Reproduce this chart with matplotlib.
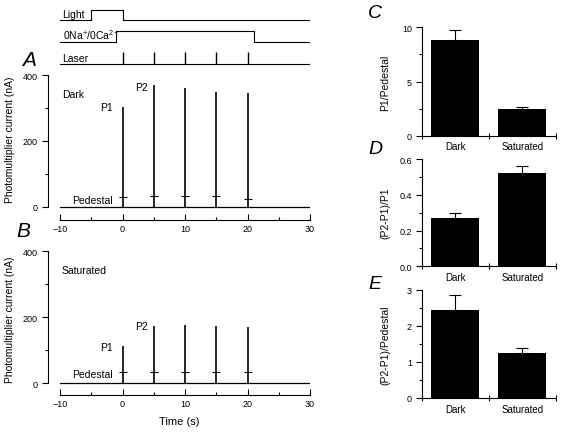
import numpy as np
import matplotlib
matplotlib.use('Agg')
import matplotlib.pyplot as plt
from matplotlib.ticker import FixedLocator

plt.rcParams['font.family'] = ['Liberation Sans', 'DejaVu Sans']
plt.rcParams['mathtext.fontset'] = 'custom'
plt.rcParams['mathtext.rm'] = 'Liberation Sans'
plt.rcParams['mathtext.it'] = 'Liberation Sans:italic'

# --- data ---
laser_t = [0, 5, 10, 15, 20]
dark_peaks = [303, 370, 360, 348, 345]
dark_ped = [30, 32, 33, 32, 23]
sat_peaks = [113, 172, 177, 174, 169]
sat_ped = [32, 35, 35, 35, 35]

light_t = [-10, -5, -5, 0, 0, 30]
light_v = [0, 0, 1, 1, 0, 0]
na_t = [-10, -1, -1, 21, 21, 30]
na_v = [0, 0, 1, 1, 0, 0]

groups = ['Dark', 'Saturated']
p1_ped = [8.8, 2.5]
p1_ped_err = [0.95, 0.12]
p2p1_p1 = [0.27, 0.52]
p2p1_p1_err = [0.03, 0.04]
p2p1_ped = [2.44, 1.26]
p2p1_ped_err = [0.42, 0.13]

W, H = 562, 435
fig = plt.figure(figsize=(W / 100, H / 100), dpi=100)


def px_axes(x0, y0, x1, y1):
    return fig.add_axes([x0 / W, 1 - y1 / H, (x1 - x0) / W, (y1 - y0) / H])


def trace_panel(ax, peaks, ped, ylow, cond, p1xy, p2xy, pedxy):
    ax.plot([-10, 30], [0, 0], color='k', lw=0.9)
    ax.vlines(laser_t, 0, peaks, color='k', lw=1.2)
    ax.plot(laser_t, ped, '_', color='k', ms=6, mew=0.8)
    ax.set_xlim(-11.92, 30)
    ax.set_ylim(ylow, 400)
    for s in ['top', 'right']:
        ax.spines[s].set_visible(False)
    ax.spines['left'].set_bounds(0, 400)
    ax.spines['bottom'].set_bounds(-10, 30)
    ax.spines['left'].set_linewidth(0.8)
    ax.spines['bottom'].set_linewidth(0.8)
    ax.set_yticks([0, 200, 400])
    ax.yaxis.set_minor_locator(FixedLocator([100, 300]))
    ax.set_xticks([-10, 0, 10, 20, 30])
    ax.xaxis.set_minor_locator(FixedLocator([-5, 5, 15, 25]))
    ax.tick_params(axis='y', which='major', direction='out', length=4, width=0.8, labelsize=6.5, pad=3.5)
    ax.tick_params(axis='y', which='minor', direction='out', length=2.5, width=0.8)
    ax.tick_params(axis='x', which='major', direction='in', length=4, width=0.8, labelsize=6.5, pad=3)
    ax.tick_params(axis='x', which='minor', direction='in', length=2, width=0.8)
    ax.text(-9.7, 343, cond, fontsize=7.5, va='center', ha='left')
    ax.text(p1xy[0], p1xy[1], 'P1', fontsize=7.5, va='center', ha='center')
    ax.text(p2xy[0], p2xy[1], 'P2', fontsize=7.5, va='center', ha='center')
    ax.text(pedxy[0], pedxy[1], 'Pedestal', fontsize=7.5, va='center', ha='right')
    ax.set_ylabel('Photomultiplier current (nA)', fontsize=7.5)


# top stimulus traces (y axis in pixels, inverted)
axt = px_axes(48, 0, 310, 72)
axt.set_xlim(-11.92, 30)
axt.set_ylim(72, 0)
axt.axis('off')
axt.plot(light_t, 21 - 10 * np.array(light_v), color='k', lw=0.8)
axt.plot(na_t, 43 - 11 * np.array(na_v), color='k', lw=0.8)
axt.plot([-10, 30], [65, 65], color='k', lw=0.8)
axt.vlines(laser_t, 53, 65, color='k', lw=1.0)
axt.text(-9.6, 20, 'Light', fontsize=7.5, va='bottom', ha='left')
axt.text(-9.6, 42, r'0Na$^{+}$/0Ca$^{2+}$', fontsize=7.5, va='bottom', ha='left')
axt.text(-9.6, 64, 'Laser', fontsize=7.5, va='bottom', ha='left')

axA = px_axes(48, 76, 310, 221)
trace_panel(axA, dark_peaks, dark_ped, -39.4, 'Dark', (-2.5, 303), (3.1, 364), (-1.5, 22))
axA.yaxis.set_label_coords(-0.126, 0.56)

axB = px_axes(48, 252.3, 310, 395.5)
trace_panel(axB, sat_peaks, sat_ped, -34.8, 'Saturated', (-2.5, 109), (3.0, 173), (-1.5, 27))
axB.yaxis.set_label_coords(-0.126, 0.53)
axB.set_xlabel('Time (s)', fontsize=8, labelpad=6)

fig.text(29 / W, 1 - 60 / H, 'A', fontsize=15, style='italic', ha='center', va='center')
fig.text(23 / W, 1 - 232 / H, 'B', fontsize=15, style='italic', ha='center', va='center')


def bar_panel(rect, vals, errs, ymax, major, minor, ylabel):
    ax = px_axes(*rect)
    x = np.array([0.5, 1.5])
    ax.bar(x, vals, width=0.71, color='k')
    ax.errorbar(x, vals, yerr=[[0, 0], errs], fmt='none', ecolor='k', elinewidth=0.8,
                capsize=4, capthick=0.8)
    ax.set_xlim(0, 2)
    ax.set_ylim(0, ymax)
    for s in ['top', 'right']:
        ax.spines[s].set_visible(False)
    ax.spines['left'].set_linewidth(0.8)
    ax.spines['bottom'].set_linewidth(0.8)
    ax.set_xticks([0, 1, 2])
    ax.set_xticklabels([])
    ax.xaxis.set_minor_locator(FixedLocator(x))
    ax.set_xticklabels(groups, minor=True)
    ax.tick_params(axis='x', which='major', direction='inout', length=5, width=0.8)
    ax.tick_params(axis='x', which='minor', length=0, labelsize=7, pad=4)
    ax.set_yticks(major)
    ax.yaxis.set_minor_locator(FixedLocator(minor))
    ax.tick_params(axis='y', which='major', direction='out', length=4, width=0.8, labelsize=6.5, pad=3)
    ax.tick_params(axis='y', which='minor', direction='out', length=2.5, width=0.8)
    ax.set_ylabel(ylabel, fontsize=7.5)
    ax.yaxis.set_label_coords(-0.235, 0.5)
    return ax


bar_panel((421.7, 28.3, 555.7, 136.7), p1_ped, p1_ped_err, 10, [0, 5, 10], [2.5, 7.5], 'P1/Pedestal')
axD = bar_panel((421.7, 160, 555.7, 267.3), p2p1_p1, p2p1_p1_err, 0.6, [0, 0.2, 0.4, 0.6], [0.1, 0.3, 0.5], '(P2-P1)/P1')
axD.set_yticklabels(['0.0', '0.2', '0.4', '0.6'])
bar_panel((421.7, 291, 555.7, 399), p2p1_ped, p2p1_ped_err, 3, [0, 1, 2, 3], [0.5, 1.5, 2.5], '(P2-P1)/Pedestal')

fig.text(375 / W, 1 - 14 / H, 'C', fontsize=14, style='italic', ha='center', va='center')
fig.text(375 / W, 1 - 150 / H, 'D', fontsize=14, style='italic', ha='center', va='center')
fig.text(375 / W, 1 - 285 / H, 'E', fontsize=14, style='italic', ha='center', va='center')

fig.savefig('out.png', dpi=100)
